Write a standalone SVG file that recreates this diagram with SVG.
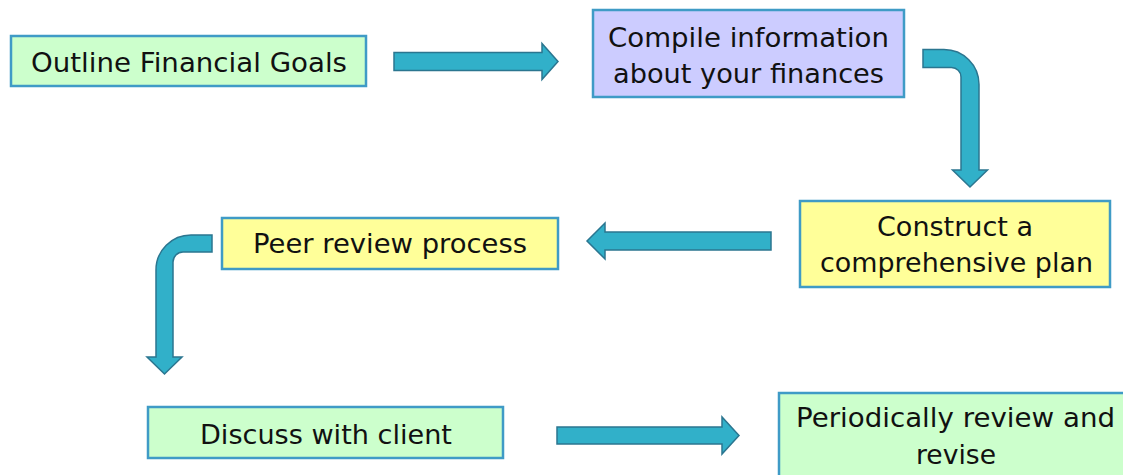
<svg xmlns="http://www.w3.org/2000/svg" width="1123" height="475" viewBox="0 0 1123 475">
  <style>
    .box { stroke: #3F9BC6; stroke-width: 2.5; }
    .green { fill: #CCFFCC; }
    .purple { fill: #CCCCFF; }
    .yellow { fill: #FFFF99; }
    .label { font-family: "DejaVu Sans", "Liberation Sans", sans-serif; font-size: 27px; fill: #111111; }
    .arrow { fill: #31B0C9; stroke: #2B7690; stroke-width: 1.5; stroke-linejoin: miter; }
  </style>
  <rect width="1123" height="475" fill="#FFFFFF"/>

  <g id="node-outline-goals">
    <rect class="box green" x="11" y="36" width="355" height="50"/>
    <text class="label" x="31" y="72" textLength="316" lengthAdjust="spacingAndGlyphs">Outline Financial Goals</text>
  </g>

  <g id="node-compile-info">
    <rect class="box purple" x="593" y="10" width="311" height="87"/>
    <text class="label" x="608" y="47" textLength="281" lengthAdjust="spacingAndGlyphs">Compile information</text>
    <text class="label" x="613" y="83" textLength="271" lengthAdjust="spacingAndGlyphs">about your finances</text>
  </g>

  <g id="node-construct-plan">
    <rect class="box yellow" x="800" y="201" width="310" height="86"/>
    <text class="label" x="877" y="236" textLength="156" lengthAdjust="spacingAndGlyphs">Construct a</text>
    <text class="label" x="820" y="272" textLength="273" lengthAdjust="spacingAndGlyphs">comprehensive plan</text>
  </g>

  <g id="node-peer-review">
    <rect class="box yellow" x="222" y="218" width="336" height="51"/>
    <text class="label" x="253" y="253" textLength="274" lengthAdjust="spacingAndGlyphs">Peer review process</text>
  </g>

  <g id="node-discuss-client">
    <rect class="box green" x="148" y="407" width="355" height="51"/>
    <text class="label" x="200" y="444" textLength="252" lengthAdjust="spacingAndGlyphs">Discuss with client</text>
  </g>

  <g id="node-review-revise">
    <rect class="box green" x="779" y="393" width="360" height="100"/>
    <text class="label" x="796" y="427" textLength="319" lengthAdjust="spacingAndGlyphs">Periodically review and</text>
    <text class="label" x="916" y="464" textLength="80" lengthAdjust="spacingAndGlyphs">revise</text>
  </g>

  <g id="connectors">
    <!-- straight block arrow: goals -> compile -->
    <polygon class="arrow" points="394,52.5 542,52.5 542,43.5 558,61.5 542,79.5 542,70.5 394,70.5"/>
    <!-- bent block arrow: compile -> construct -->
    <path class="arrow" d="M923,49.5 L944,49.5 A35,35 0 0 1 979,84.5 L979,170 L987.5,170 L970,187 L952.5,170 L961,170 L961,77 A9.5,9.5 0 0 0 951.5,67.5 L923,67.5 Z"/>
    <!-- straight block arrow pointing left: construct -> peer review -->
    <polygon class="arrow" points="771,232 605,232 605,223 587,241 605,259 605,250 771,250"/>
    <!-- bent block arrow: peer review -> discuss -->
    <path class="arrow" d="M212,235 L191,235 A35,35 0 0 0 156,270 L156,357 L147,357 L164.5,374 L182,357 L173,357 L173,262 A10,10 0 0 1 183,252 L212,252 Z"/>
    <!-- straight block arrow: discuss -> review and revise -->
    <polygon class="arrow" points="557,427 722,427 722,417 739,435.5 722,454 722,444 557,444"/>
  </g>
</svg>
